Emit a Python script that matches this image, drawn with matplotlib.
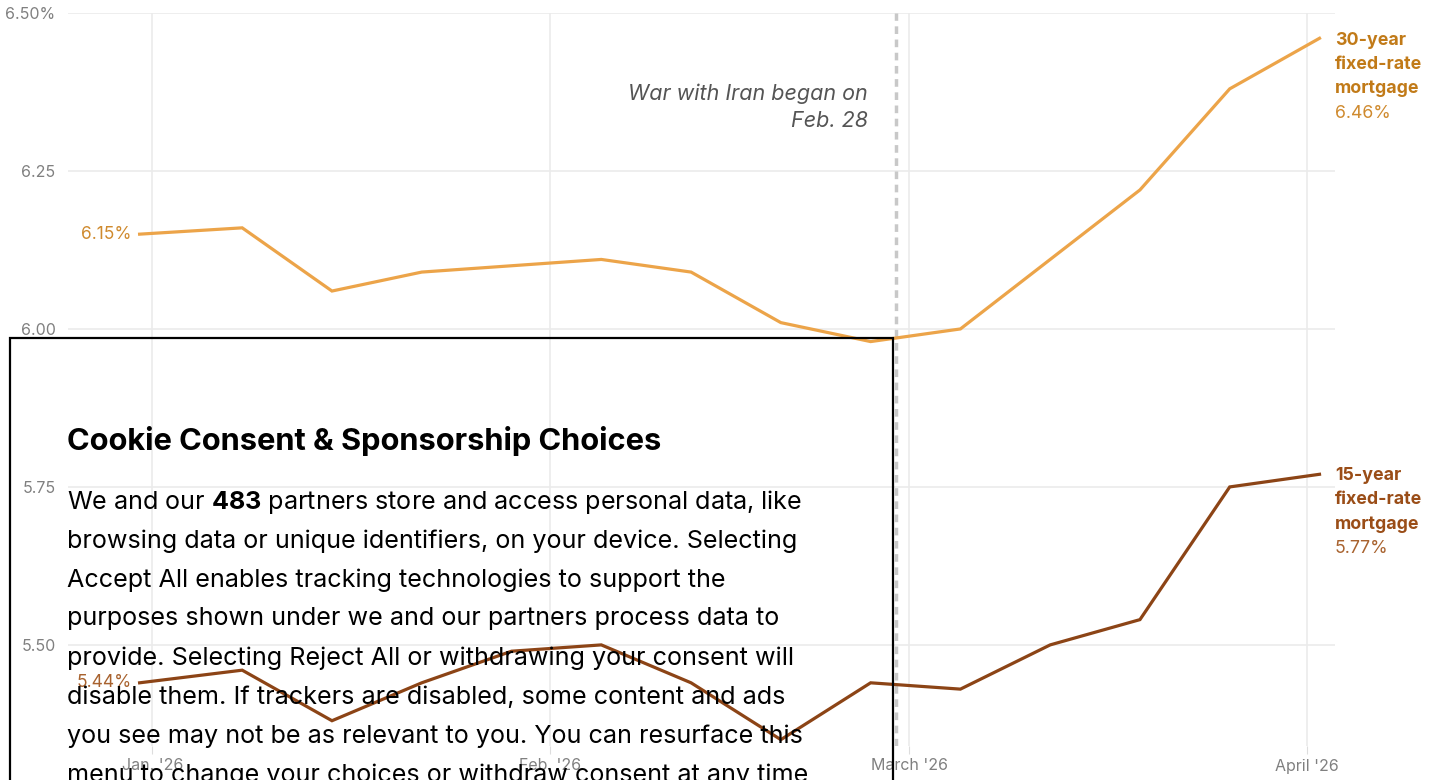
import datetime as dt
import matplotlib
matplotlib.use('Agg')
import matplotlib.pyplot as plt
from matplotlib.patches import Rectangle

plt.rcParams['font.family'] = ['Inter', 'DejaVu Sans']
plt.rcParams['mathtext.fontset'] = 'custom'
plt.rcParams['mathtext.rm'] = 'Inter'
plt.rcParams['mathtext.bf'] = 'Inter:bold'

# weekly Freddie Mac survey dates
weeks = ['2025-12-31', '2026-01-08', '2026-01-15', '2026-01-22', '2026-01-29',
         '2026-02-05', '2026-02-12', '2026-02-19', '2026-02-26', '2026-03-05',
         '2026-03-12', '2026-03-19', '2026-03-26', '2026-04-02']
rate_30 = [6.15, 6.16, 6.06, 6.09, 6.10, 6.11, 6.09, 6.01, 5.98, 6.00, 6.11, 6.22, 6.38, 6.46]
rate_15 = [5.44, 5.46, 5.38, 5.44, 5.49, 5.50, 5.44, 5.35, 5.44, 5.43, 5.50, 5.54, 5.75, 5.77]

y_ticks = [5.50, 5.75, 6.00, 6.25, 6.50]
y_labels = ['5.50', '5.75', '6.00', '6.25', '6.50%']
month_ticks = ['2026-01-01', '2026-02-01', '2026-03-01', '2026-04-01']
month_labels = ["Jan. '26", "Feb. '26", "March '26", "April '26"]
war_date = '2026-02-28'

dates = [dt.datetime.strptime(d, '%Y-%m-%d') for d in weeks]
mdays = [dt.datetime.strptime(d, '%Y-%m-%d') for d in month_ticks]
war = dt.datetime.strptime(war_date, '%Y-%m-%d')

c30 = '#eca449'
c30_txt = '#c17a18'
c15 = '#8c4416'
c15_txt = '#9a4d17'

fig = plt.figure(figsize=(14.46, 7.80), dpi=100)
ax = fig.add_axes([68/1446, 1 - 746/780, (1335 - 68)/1446, (746 - 13)/780])

ax.set_xlim(dt.datetime(2025, 12, 25, 10), dt.datetime(2026, 4, 3, 5))
ax.set_ylim(5.34, 6.50)

ax.set_yticks(y_ticks)
ax.set_yticklabels(y_labels)
ax.set_xticks(mdays)
ax.set_xticklabels(month_labels)
ax.grid(True, color='#ebebeb', lw=1.2, zorder=0)
for s in ax.spines.values():
    s.set_visible(False)
ax.tick_params(axis='y', length=0, pad=9, labelsize=11.5, labelcolor='#808080')
ax.tick_params(axis='x', length=6, color='#dddddd', direction='out', pad=3,
               labelsize=11.5, labelcolor='#808080')

ax.axvline(war, color='#c8c8c8', lw=2.5, ls=(0, (2.2, 1.6)), zorder=2)
ax.text(war - dt.timedelta(days=2.2), 6.388, 'War with Iran began on\nFeb. 28',
        ha='right', va='top', style='italic', fontsize=15.5, color='#555555',
        linespacing=1.42, zorder=2)

ax.plot(dates, rate_30, color=c30, lw=2.3, zorder=4, solid_joinstyle='miter')
ax.plot(dates, rate_15, color=c15, lw=2.3, zorder=4, solid_joinstyle='miter')

ax.text(dates[0] - dt.timedelta(days=0.6), rate_30[0], f'{rate_30[0]:.2f}%',
        ha='right', va='center', fontsize=12.5, color='#cf8a2e', zorder=4)
ax.text(dates[0] - dt.timedelta(days=0.6), rate_15[0], f'{rate_15[0]:.2f}%',
        ha='right', va='center', fontsize=12.5, color='#a8622e', zorder=4)

lab_kw = dict(transform=ax.get_yaxis_transform(), ha='left', va='top', fontsize=12.8,
              linespacing=1.55, clip_on=False)
ax.text(1.0, 6.47, '30-year\nfixed-rate\nmortgage', fontweight='bold', color=c30_txt, **lab_kw)
ax.text(1.0, 6.47 - 3 * 0.0385, f'{rate_30[-1]:.2f}%', color='#cf8a2e', **lab_kw)
ax.text(1.0, 5.781, '15-year\nfixed-rate\nmortgage', fontweight='bold', color=c15_txt, **lab_kw)
ax.text(1.0, 5.781 - 3 * 0.0385, f'{rate_15[-1]:.2f}%', color='#a8622e', **lab_kw)

# consent overlay sitting over the chart
fig.patches.append(Rectangle((10/1446, -0.05), (893 - 10)/1446, 1 - 338/780 + 0.05,
                             transform=fig.transFigure, fill=False, ec='black', lw=1.6,
                             zorder=1))
fig.text(67/1446, 1 - 441/780, 'Cookie Consent & Sponsorship Choices', ha='left',
         va='center', fontsize=22.2, fontweight='bold', color='black', zorder=1)
body = [r'We and our $\mathbf{483}$ partners store and access personal data, like',
        'browsing data or unique identifiers, on your device. Selecting',
        'Accept All enables tracking technologies to support the',
        'purposes shown under we and our partners process data to',
        'provide. Selecting Reject All or withdrawing your consent will',
        'disable them. If trackers are disabled, some content and ads',
        'you see may not be as relevant to you. You can resurface this',
        'menu to change your choices or withdraw consent at any time']
for i, line in enumerate(body):
    fig.text(67/1446, 1 - (502 + i * 39)/780, line, ha='left', va='center',
             fontsize=18.1, color='black', zorder=1)

fig.savefig('out.png', dpi=100)
